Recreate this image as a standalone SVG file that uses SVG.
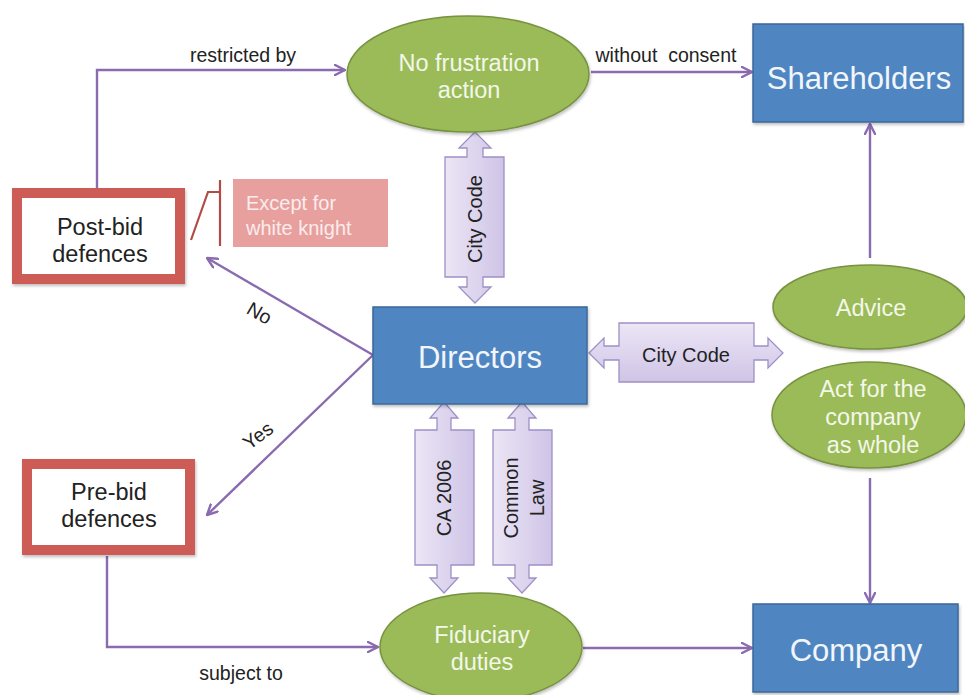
<svg xmlns="http://www.w3.org/2000/svg" width="965" height="695" viewBox="0 0 965 695">
  <defs>
    <linearGradient id="lav" x1="0" y1="0" x2="1" y2="0">
      <stop offset="0" stop-color="#ece6f6"/>
      <stop offset="1" stop-color="#cfc4e6"/>
    </linearGradient>
    <linearGradient id="lavV" x1="0" y1="0" x2="0" y2="1">
      <stop offset="0" stop-color="#ece6f6"/>
      <stop offset="1" stop-color="#cfc4e6"/>
    </linearGradient>
    <marker id="arr" viewBox="0 0 12 12" refX="11" refY="6" markerWidth="12" markerHeight="12" markerUnits="userSpaceOnUse" orient="auto">
      <path d="M1,1 L11,6 L1,11" fill="none" stroke="#8a6bb0" stroke-width="2.4" stroke-linecap="round" stroke-linejoin="round"/>
    </marker>
    <filter id="sh" x="-10%" y="-10%" width="130%" height="130%">
      <feDropShadow dx="1" dy="2" stdDeviation="1.5" flood-color="#000" flood-opacity="0.25"/>
    </filter>
  </defs>
  <style>
    text { font-family: "Liberation Sans", Arial, sans-serif; }
    .box { fill: #4f86c2; stroke: #3b679a; stroke-width: 1.5; filter: url(#sh); }
    .boxt { fill: #f2f6fb; text-anchor: middle; font-size: 31px; }
    .ell { fill: #9bbb59; stroke: #77923f; stroke-width: 1.5; filter: url(#sh); }
    .ellt { fill: #f3f7ea; font-size: 23.5px; text-anchor: middle; }
    .red { fill: #ffffff; stroke: #cd5c56; stroke-width: 10; filter: url(#sh); }
    .redt { fill: #222; font-size: 23.5px; text-anchor: middle; }
    .conn { fill: none; stroke: #8a6bb0; stroke-width: 2.4; }
    .lbl { fill: #222; font-size: 19.5px; text-anchor: middle; }
    .dbl { stroke: #9d90c6; stroke-width: 1.3; }
    .dblt { fill: #222; font-size: 20px; text-anchor: middle; }
  </style>
  <rect width="965" height="695" fill="#ffffff"/>

  <!-- connectors -->
  <g id="connectors">
    <polyline class="conn" points="97,190 97,70 345,70" marker-end="url(#arr)"/>
    <line class="conn" x1="591" y1="72" x2="752" y2="72" marker-end="url(#arr)"/>
    <line class="conn" x1="373" y1="355" x2="207" y2="258" marker-end="url(#arr)"/>
    <line class="conn" x1="373" y1="355" x2="207" y2="515" marker-end="url(#arr)"/>
    <polyline class="conn" points="107,556 107,647 378,647" marker-end="url(#arr)"/>
    <line class="conn" x1="583" y1="648" x2="752" y2="648" marker-end="url(#arr)"/>
    <line class="conn" x1="870" y1="258" x2="870" y2="124" marker-end="url(#arr)"/>
    <line class="conn" x1="870" y1="478" x2="870" y2="603" marker-end="url(#arr)"/>
    <text class="lbl" x="243" y="62">restricted by</text>
    <text class="lbl" x="666" y="62" xml:space="preserve">without  consent</text>
    <text class="lbl" x="241" y="680">subject to</text>
    <text class="lbl" transform="translate(256,319) rotate(30)">No</text>
    <text class="lbl" transform="translate(262,441) rotate(-37)">Yes</text>
  </g>

  <!-- double-headed link arrows -->
  <g id="link-citycode-v">
    <polygon class="dbl" fill="url(#lav)" points="475,132 491,148 483,148 483,157 504,157 504,277 483,277 483,287 491,287 475,303 459,287 467,287 467,277 445,277 445,157 467,157 467,148 459,148"/>
    <text class="dblt" transform="translate(482,219) rotate(-90)">City Code</text>
  </g>
  <g id="link-citycode-h">
    <polygon class="dbl" fill="url(#lavV)" points="589,353 604,338 604,346 619,346 619,323 754,323 754,346 768,346 768,338 783,353 768,368 768,360 754,360 754,382 619,382 619,360 604,360 604,368"/>
    <text class="dblt" x="686" y="362">City Code</text>
  </g>
  <g id="link-ca2006">
    <polygon class="dbl" fill="url(#lav)" points="444,402 458,418 451,418 451,430 474,430 474,565 451,565 451,578 458,578 444,593 430,578 437,578 437,565 415,565 415,430 437,430 437,418 430,418"/>
    <text class="dblt" transform="translate(451,498) rotate(-90)">CA 2006</text>
  </g>
  <g id="link-commonlaw">
    <polygon class="dbl" fill="url(#lav)" points="522,402 536,418 529,418 529,430 552,430 552,565 529,565 529,578 536,578 522,593 508,578 515,578 515,565 493,565 493,430 515,430 515,418 508,418"/>
    <text class="dblt" transform="translate(518,498) rotate(-90)">Common</text>
    <text class="dblt" transform="translate(544,498) rotate(-90)">Law</text>
  </g>

  <!-- nodes -->
  <g id="no-frustration">
    <ellipse class="ell" cx="468" cy="74" rx="121" ry="58"/>
    <text class="ellt" x="469" y="71">No frustration</text>
    <text class="ellt" x="469" y="98">action</text>
  </g>
  <g id="shareholders">
    <rect class="box" x="753" y="24" width="210" height="98"/>
    <text class="boxt" x="859" y="89">Shareholders</text>
  </g>
  <g id="post-bid">
    <rect class="red" x="17" y="193" width="163" height="86"/>
    <text class="redt" x="100" y="235">Post-bid</text>
    <text class="redt" x="100" y="262">defences</text>
  </g>
  <g id="white-knight">
    <path d="M220,180 V246 M220,192 H208 L191,240" fill="none" stroke="#b34a46" stroke-width="2.2"/>
    <rect x="233" y="179" width="155" height="68" fill="#e7a09e"/>
    <text x="246" y="210" fill="#fbecec" font-size="20">Except for</text>
    <text x="246" y="235" fill="#fbecec" font-size="20">white knight</text>
  </g>
  <g id="directors">
    <rect class="box" x="373" y="307" width="214" height="97"/>
    <text class="boxt" x="480" y="368">Directors</text>
  </g>
  <g id="advice">
    <ellipse class="ell" cx="870" cy="307" rx="97" ry="42"/>
    <text class="ellt" x="871" y="316">Advice</text>
  </g>
  <g id="act-for-company">
    <ellipse class="ell" cx="869" cy="415" rx="97" ry="53"/>
    <text class="ellt" x="873" y="397">Act for the</text>
    <text class="ellt" x="873" y="425">company</text>
    <text class="ellt" x="873" y="453">as whole</text>
  </g>
  <g id="pre-bid">
    <rect class="red" x="27" y="464" width="163" height="86"/>
    <text class="redt" x="109" y="500">Pre-bid</text>
    <text class="redt" x="109" y="527">defences</text>
  </g>
  <g id="fiduciary">
    <ellipse class="ell" cx="481" cy="647" rx="101" ry="54"/>
    <text class="ellt" x="482" y="643">Fiduciary</text>
    <text class="ellt" x="482" y="670">duties</text>
  </g>
  <g id="company">
    <rect class="box" x="753" y="604" width="205" height="88"/>
    <text class="boxt" x="856" y="661">Company</text>
  </g>
</svg>
